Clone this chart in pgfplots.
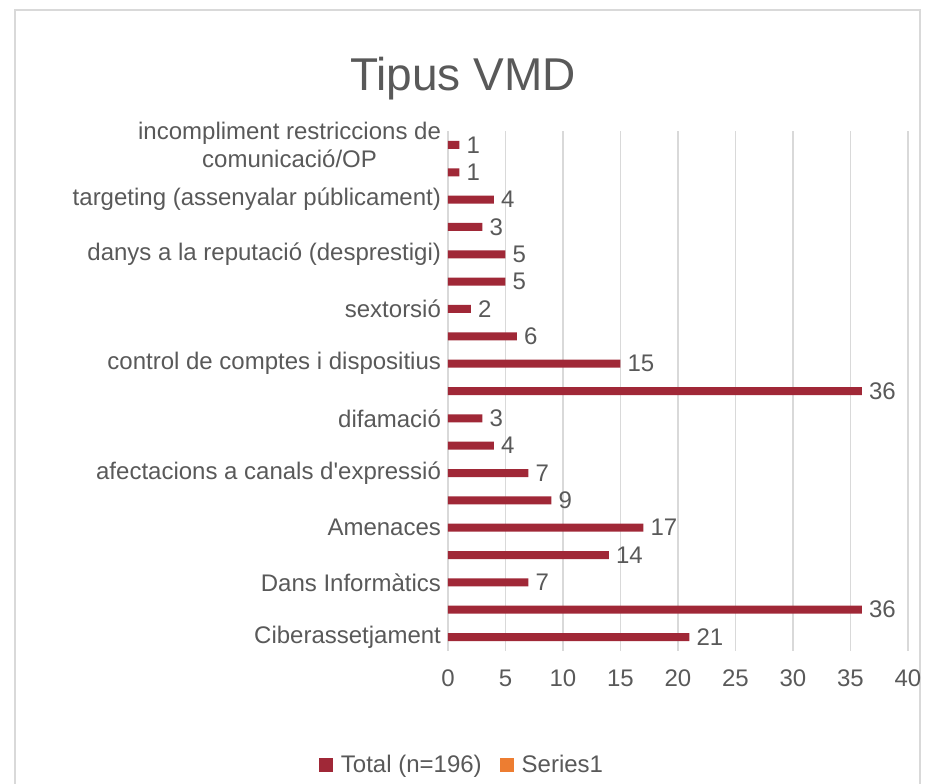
\documentclass[border=0pt]{standalone}
\usepackage{fontspec}
\setmainfont{Liberation Sans}
\usepackage{pgfplots}
\pgfplotsset{compat=1.18}
\definecolor{bartot}{RGB}{160,40,55}
\definecolor{serorange}{RGB}{237,125,49}
\definecolor{txtgray}{RGB}{89,89,89}
\definecolor{gridgray}{RGB}{217,217,217}
\begin{document}
\begin{tikzpicture}
\useasboundingbox (0,0) rectangle (469pt,391.5pt);
\draw[gridgray, line width=0.8pt] (7.5pt,-5pt) rectangle (460pt,386.5pt);
\node[txtgray, font=\fontsize{23}{26}\selectfont] at (231.5pt,352pt) {Tipus VMD};
\begin{axis}[
    at={(224pt,66.15pt)}, anchor=south west,
    scale only axis,
    width=230pt, height=259.7pt,
    xbar, bar width=4pt,
    xmin=0, xmax=40, xtick={0,5,...,40},
    ymin=-0.5, ymax=18.5,
    ytick={0,2,...,18},
    yticklabels={Ciberassetjament, Dans Informàtics, Amenaces, afectacions a canals d\textquotesingle expressió, difamació, control de comptes i dispositius, sextorsió, danys a la reputació (desprestigi), targeting (assenyalar públicament), {incompliment restriccions de\\comunicació/OP}},
    yticklabel style={align=center},
    xticklabel style={yshift=-6pt},
    xmajorgrids, major grid style={gridgray, line width=0.8pt},
    axis line style={draw=none},
    major tick length=0pt,
    tick label style={txtgray, font=\fontsize{12}{14}\selectfont},
    /pgf/number format/assume math mode=true,
    nodes near coords,
    nodes near coords style={txtgray, font=\fontsize{12}{14}\selectfont},
    clip=false,
    legend style={at={(0.037,-0.22)}, anchor=center, legend columns=2, draw=none,
        font=\fontsize{12}{14}\selectfont, text=txtgray,
        nodes={inner xsep=4pt},
        /tikz/every even column/.append style={column sep=5pt}},
    legend image code/.code={\fill[#1, draw=none] (0pt,-3.5pt) rectangle (7pt,3.5pt);},
]
\addplot[fill=bartot, draw=none] coordinates {
    (21,0) (36,1) (7,2) (14,3) (17,4) (9,5) (7,6) (4,7) (3,8) (36,9)
    (15,10) (6,11) (2,12) (5,13) (5,14) (3,15) (4,16) (1,17) (1,18)
};
\addlegendentry{Total (n=196)}
\addlegendimage{fill=serorange, draw=none}
\addlegendentry{Series1}
\end{axis}
\end{tikzpicture}
\end{document}
